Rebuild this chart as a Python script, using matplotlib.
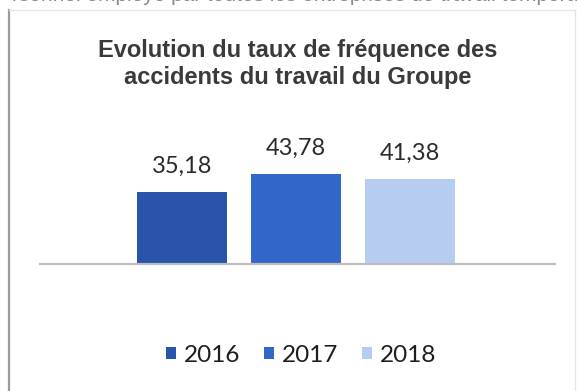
import matplotlib.pyplot as plt
from matplotlib.lines import Line2D

years = ["2016", "2017", "2018"]
rates = [35.18, 43.78, 41.38]
labels = ["35,18", "43,78", "41,38"]
colors = ["#2a53ab", "#3366c9", "#b6cdf1"]

title = "Evolution du taux de fréquence des\naccidents du travail du Groupe"
header = "rsonnel employé par toutes les entreprises de travail temporaire"

W, H = 577, 391
fig = plt.figure(figsize=(W / 100, H / 100), dpi=100)

# page text above the chart frame, cut at the top edge
fig.text(12 / W, 1.012, header, ha="left", va="center",
         fontsize=15, color="#8a8a8a", family="Liberation Sans")

# chart frame
fig.add_artist(Line2D([9 / W, 9 / W], [0, 1 - 10 / H],
                      color="#9a9a9a", lw=1.6))
fig.add_artist(Line2D([575 / W, 575 / W], [0, 1 - 10 / H],
                      color="#e6e6e6", lw=1.0))
fig.add_artist(Line2D([9 / W, 575 / W], [1 - 10 / H, 1 - 10 / H],
                      color="#e6e6e6", lw=1.0))

ax = fig.add_axes([40 / W, (H - 264) / H, 515 / W, 144 / H])
x = range(len(years))
bars = ax.bar(x, rates, width=0.79, color=colors, zorder=2)

ax.set_xlim(-1.246, 3.272)
ax.set_ylim(0, 70.2)
for s in ["top", "right", "left"]:
    ax.spines[s].set_visible(False)
ax.spines["bottom"].set_color("#bdbdbd")
ax.spines["bottom"].set_linewidth(1.6)
ax.set_xticks([])
ax.set_yticks([])

for b, lab in zip(bars, labels):
    ax.annotate(lab, (b.get_x() + b.get_width() / 2, b.get_height()),
                xytext=(0, 13.7), textcoords="offset points",
                ha="center", va="baseline", fontsize=17,
                color="#2b2b2b", family="Lato")

fig.text(298 / W, 1 - 64 / H, title, ha="center", va="center",
         fontsize=17, fontweight="bold", color="#3a3a3a",
         family="Liberation Sans", linespacing=1.2)

fig.legend(bars, years, loc="center", ncol=3,
           bbox_to_anchor=(301 / W, 1 - 355 / H), frameon=False,
           prop={"family": "Lato", "size": 17.5},
           handlelength=0.42, handleheight=0.42,
           handletextpad=0.3, columnspacing=1.0,
           labelcolor="#1e1e1e")

fig.savefig("out.png", dpi=100)
plt.close()
